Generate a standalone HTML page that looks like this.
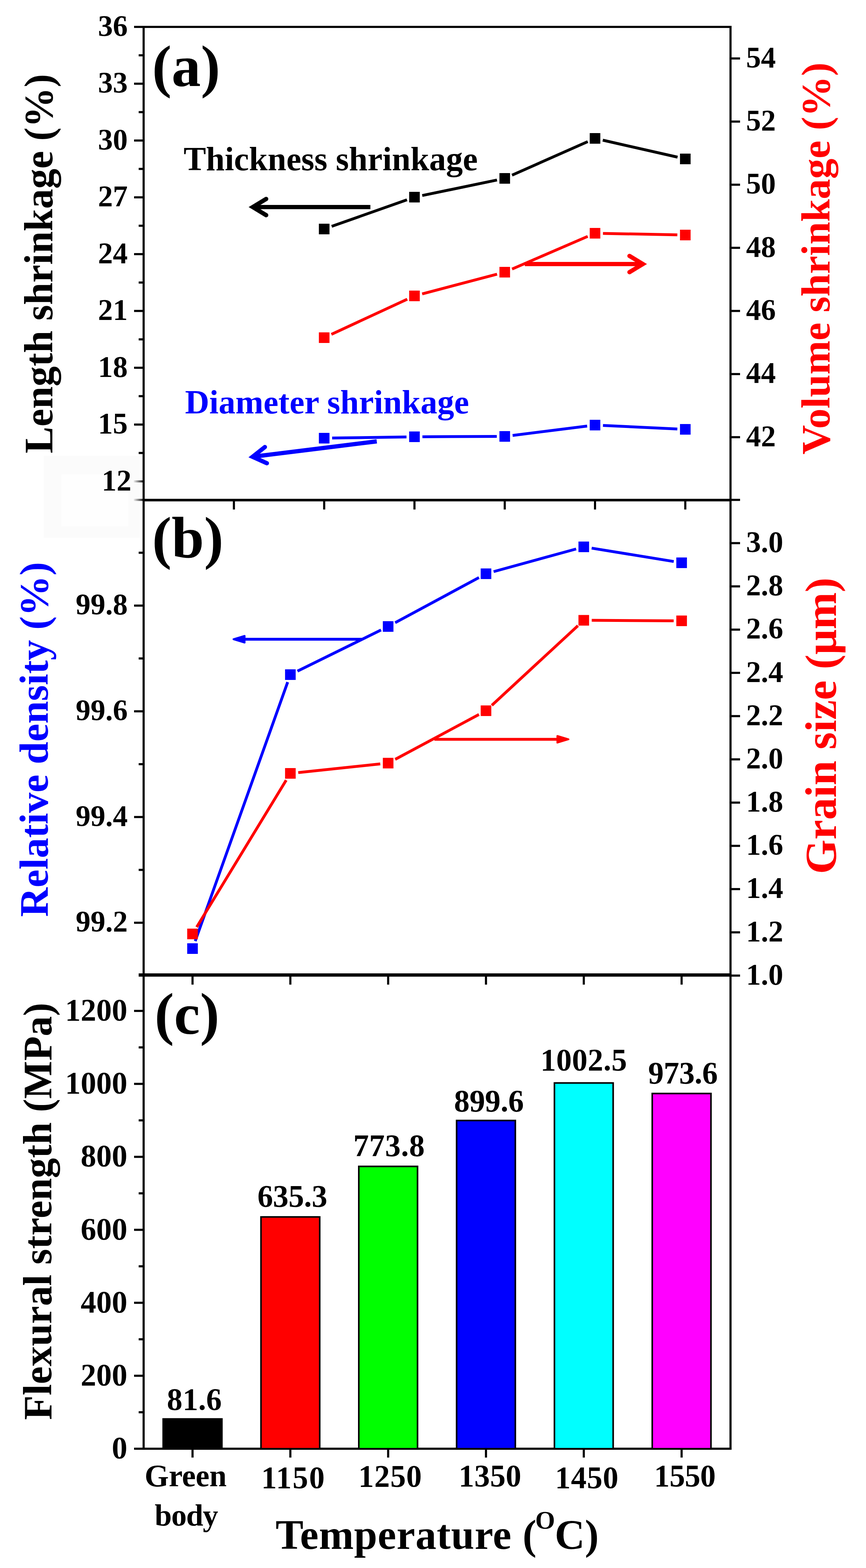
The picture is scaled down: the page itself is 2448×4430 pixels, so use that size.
<!DOCTYPE html>
<html><head><meta charset="utf-8"><title>Figure</title>
<style>html,body{margin:0;padding:0;background:#fff;}svg{display:block;}</style></head>
<body><svg width="2448" height="4430" viewBox="0 0 2448 4430" style="font-family:'Liberation Serif','Times New Roman',serif;font-weight:bold">
<rect width="2448" height="4430" fill="#fff"/>
<defs><linearGradient id="fade" x1="0" x2="1"><stop offset="0" stop-color="#eee"/><stop offset="1" stop-color="#222"/></linearGradient></defs>
<rect x="124" y="1288" width="271" height="231" fill="#fbfbfb"/>
<rect x="173" y="1340" width="190" height="147" fill="#fefefe"/>
<rect x="378" y="1357.0" width="26" height="6" fill="url(#fade)"/>
<text x="371.5" y="1385.5" font-size="84" text-anchor="end" fill="#000" >12</text>
<line x1="379" y1="1199.5" x2="406" y2="1199.5" stroke="#000" stroke-width="6" />
<text x="361" y="1225.0" font-size="84" text-anchor="end" fill="#000" >15</text>
<line x1="379" y1="1039.0" x2="406" y2="1039.0" stroke="#000" stroke-width="6" />
<text x="361" y="1064.5" font-size="84" text-anchor="end" fill="#000" >18</text>
<line x1="379" y1="878.5" x2="406" y2="878.5" stroke="#000" stroke-width="6" />
<text x="361" y="904.0" font-size="84" text-anchor="end" fill="#000" >21</text>
<line x1="379" y1="718.0" x2="406" y2="718.0" stroke="#000" stroke-width="6" />
<text x="361" y="743.5" font-size="84" text-anchor="end" fill="#000" >24</text>
<line x1="379" y1="557.5" x2="406" y2="557.5" stroke="#000" stroke-width="6" />
<text x="361" y="583.0" font-size="84" text-anchor="end" fill="#000" >27</text>
<line x1="379" y1="397.0" x2="406" y2="397.0" stroke="#000" stroke-width="6" />
<text x="361" y="422.5" font-size="84" text-anchor="end" fill="#000" >30</text>
<line x1="379" y1="236.5" x2="406" y2="236.5" stroke="#000" stroke-width="6" />
<text x="361" y="262.0" font-size="84" text-anchor="end" fill="#000" >33</text>
<line x1="379" y1="76.0" x2="406" y2="76.0" stroke="#000" stroke-width="6" />
<text x="361" y="101.5" font-size="84" text-anchor="end" fill="#000" >36</text>
<line x1="392" y1="1279.75" x2="406" y2="1279.75" stroke="#000" stroke-width="6" />
<line x1="392" y1="1119.25" x2="406" y2="1119.25" stroke="#000" stroke-width="6" />
<line x1="392" y1="958.75" x2="406" y2="958.75" stroke="#000" stroke-width="6" />
<line x1="392" y1="798.25" x2="406" y2="798.25" stroke="#000" stroke-width="6" />
<line x1="392" y1="637.75" x2="406" y2="637.75" stroke="#000" stroke-width="6" />
<line x1="392" y1="477.25" x2="406" y2="477.25" stroke="#000" stroke-width="6" />
<line x1="392" y1="316.75" x2="406" y2="316.75" stroke="#000" stroke-width="6" />
<line x1="392" y1="156.25" x2="406" y2="156.25" stroke="#000" stroke-width="6" />
<line x1="2065" y1="1235.1666666666667" x2="2092" y2="1235.1666666666667" stroke="#000" stroke-width="6" />
<text x="2109" y="1260.6666666666667" font-size="84" text-anchor="start" fill="#000" >42</text>
<line x1="2065" y1="1056.8333333333335" x2="2092" y2="1056.8333333333335" stroke="#000" stroke-width="6" />
<text x="2109" y="1082.3333333333335" font-size="84" text-anchor="start" fill="#000" >44</text>
<line x1="2065" y1="878.5" x2="2092" y2="878.5" stroke="#000" stroke-width="6" />
<text x="2109" y="904.0" font-size="84" text-anchor="start" fill="#000" >46</text>
<line x1="2065" y1="700.1666666666666" x2="2092" y2="700.1666666666666" stroke="#000" stroke-width="6" />
<text x="2109" y="725.6666666666666" font-size="84" text-anchor="start" fill="#000" >48</text>
<line x1="2065" y1="521.8333333333333" x2="2092" y2="521.8333333333333" stroke="#000" stroke-width="6" />
<text x="2109" y="547.3333333333333" font-size="84" text-anchor="start" fill="#000" >50</text>
<line x1="2065" y1="343.5" x2="2092" y2="343.5" stroke="#000" stroke-width="6" />
<text x="2109" y="369.0" font-size="84" text-anchor="start" fill="#000" >52</text>
<line x1="2065" y1="165.16666666666669" x2="2092" y2="165.16666666666669" stroke="#000" stroke-width="6" />
<text x="2109" y="190.66666666666669" font-size="84" text-anchor="start" fill="#000" >54</text>
<line x1="661.2" y1="1413.5" x2="661.2" y2="1439.5" stroke="#000" stroke-width="6" />
<line x1="916.4" y1="1413.5" x2="916.4" y2="1439.5" stroke="#000" stroke-width="6" />
<line x1="1171.6" y1="1413.5" x2="1171.6" y2="1439.5" stroke="#000" stroke-width="6" />
<line x1="1426.8" y1="1413.5" x2="1426.8" y2="1439.5" stroke="#000" stroke-width="6" />
<line x1="1682.0" y1="1413.5" x2="1682.0" y2="1439.5" stroke="#000" stroke-width="6" />
<line x1="1937.1999999999998" y1="1413.5" x2="1937.1999999999998" y2="1439.5" stroke="#000" stroke-width="6" />
<line x1="379" y1="2606.9666666666626" x2="406" y2="2606.9666666666626" stroke="#000" stroke-width="6" />
<text x="361" y="2632.4666666666626" font-size="84" text-anchor="end" fill="#000" >99.2</text>
<line x1="379" y1="2308.2999999999915" x2="406" y2="2308.2999999999915" stroke="#000" stroke-width="6" />
<text x="361" y="2333.7999999999915" font-size="84" text-anchor="end" fill="#000" >99.4</text>
<line x1="379" y1="2009.6333333333419" x2="406" y2="2009.6333333333419" stroke="#000" stroke-width="6" />
<text x="361" y="2035.1333333333419" font-size="84" text-anchor="end" fill="#000" >99.6</text>
<line x1="379" y1="1710.9666666666708" x2="406" y2="1710.9666666666708" stroke="#000" stroke-width="6" />
<text x="361" y="1736.4666666666708" font-size="84" text-anchor="end" fill="#000" >99.8</text>
<rect x="378" y="1409.3" width="26" height="6" fill="url(#fade)"/>
<line x1="392" y1="2756.3000000000084" x2="406" y2="2756.3000000000084" stroke="#000" stroke-width="6" />
<line x1="392" y1="2457.6333333333378" x2="406" y2="2457.6333333333378" stroke="#000" stroke-width="6" />
<line x1="392" y1="2158.9666666666667" x2="406" y2="2158.9666666666667" stroke="#000" stroke-width="6" />
<line x1="392" y1="1860.2999999999956" x2="406" y2="1860.2999999999956" stroke="#000" stroke-width="6" />
<line x1="392" y1="1561.6333333333248" x2="406" y2="1561.6333333333248" stroke="#000" stroke-width="6" />
<line x1="2065" y1="2756.3" x2="2092" y2="2756.3" stroke="#000" stroke-width="6" />
<text x="2109" y="2781.8" font-size="84" text-anchor="start" fill="#000" >1.0</text>
<line x1="2065" y1="2634.118181818182" x2="2092" y2="2634.118181818182" stroke="#000" stroke-width="6" />
<text x="2109" y="2659.618181818182" font-size="84" text-anchor="start" fill="#000" >1.2</text>
<line x1="2065" y1="2511.936363636364" x2="2092" y2="2511.936363636364" stroke="#000" stroke-width="6" />
<text x="2109" y="2537.436363636364" font-size="84" text-anchor="start" fill="#000" >1.4</text>
<line x1="2065" y1="2389.7545454545457" x2="2092" y2="2389.7545454545457" stroke="#000" stroke-width="6" />
<text x="2109" y="2415.2545454545457" font-size="84" text-anchor="start" fill="#000" >1.6</text>
<line x1="2065" y1="2267.572727272727" x2="2092" y2="2267.572727272727" stroke="#000" stroke-width="6" />
<text x="2109" y="2293.072727272727" font-size="84" text-anchor="start" fill="#000" >1.8</text>
<line x1="2065" y1="2145.390909090909" x2="2092" y2="2145.390909090909" stroke="#000" stroke-width="6" />
<text x="2109" y="2170.890909090909" font-size="84" text-anchor="start" fill="#000" >2.0</text>
<line x1="2065" y1="2023.209090909091" x2="2092" y2="2023.209090909091" stroke="#000" stroke-width="6" />
<text x="2109" y="2048.709090909091" font-size="84" text-anchor="start" fill="#000" >2.2</text>
<line x1="2065" y1="1901.0272727272727" x2="2092" y2="1901.0272727272727" stroke="#000" stroke-width="6" />
<text x="2109" y="1926.5272727272727" font-size="84" text-anchor="start" fill="#000" >2.4</text>
<line x1="2065" y1="1778.8454545454547" x2="2092" y2="1778.8454545454547" stroke="#000" stroke-width="6" />
<text x="2109" y="1804.3454545454547" font-size="84" text-anchor="start" fill="#000" >2.6</text>
<line x1="2065" y1="1656.6636363636367" x2="2092" y2="1656.6636363636367" stroke="#000" stroke-width="6" />
<text x="2109" y="1682.1636363636367" font-size="84" text-anchor="start" fill="#000" >2.8</text>
<line x1="2065" y1="1534.4818181818182" x2="2092" y2="1534.4818181818182" stroke="#000" stroke-width="6" />
<text x="2109" y="1559.9818181818182" font-size="84" text-anchor="start" fill="#000" >3.0</text>
<line x1="2065" y1="1412.3" x2="2092" y2="1412.3" stroke="#000" stroke-width="6" />
<line x1="544.25" y1="2756.3" x2="544.25" y2="2781.8" stroke="#000" stroke-width="6" />
<line x1="820.75" y1="2756.3" x2="820.75" y2="2781.8" stroke="#000" stroke-width="6" />
<line x1="1097.25" y1="2756.3" x2="1097.25" y2="2781.8" stroke="#000" stroke-width="6" />
<line x1="1373.75" y1="2756.3" x2="1373.75" y2="2781.8" stroke="#000" stroke-width="6" />
<line x1="1650.25" y1="2756.3" x2="1650.25" y2="2781.8" stroke="#000" stroke-width="6" />
<line x1="1926.75" y1="2756.3" x2="1926.75" y2="2781.8" stroke="#000" stroke-width="6" />
<line x1="379" y1="4093.0" x2="406" y2="4093.0" stroke="#000" stroke-width="6" />
<text x="360" y="4120.0" font-size="88" text-anchor="end" fill="#000" >0</text>
<line x1="379" y1="3886.846153846154" x2="406" y2="3886.846153846154" stroke="#000" stroke-width="6" />
<text x="360" y="3913.846153846154" font-size="88" text-anchor="end" fill="#000" >200</text>
<line x1="379" y1="3680.6923076923076" x2="406" y2="3680.6923076923076" stroke="#000" stroke-width="6" />
<text x="360" y="3707.6923076923076" font-size="88" text-anchor="end" fill="#000" >400</text>
<line x1="379" y1="3474.5384615384614" x2="406" y2="3474.5384615384614" stroke="#000" stroke-width="6" />
<text x="360" y="3501.5384615384614" font-size="88" text-anchor="end" fill="#000" >600</text>
<line x1="379" y1="3268.3846153846152" x2="406" y2="3268.3846153846152" stroke="#000" stroke-width="6" />
<text x="360" y="3295.3846153846152" font-size="88" text-anchor="end" fill="#000" >800</text>
<line x1="379" y1="3062.2307692307695" x2="406" y2="3062.2307692307695" stroke="#000" stroke-width="6" />
<text x="360" y="3089.2307692307695" font-size="88" text-anchor="end" fill="#000" >1000</text>
<line x1="379" y1="2856.076923076923" x2="406" y2="2856.076923076923" stroke="#000" stroke-width="6" />
<text x="360" y="2883.076923076923" font-size="88" text-anchor="end" fill="#000" >1200</text>
<line x1="392" y1="3989.923076923077" x2="406" y2="3989.923076923077" stroke="#000" stroke-width="6" />
<line x1="392" y1="3783.769230769231" x2="406" y2="3783.769230769231" stroke="#000" stroke-width="6" />
<line x1="392" y1="3577.6153846153848" x2="406" y2="3577.6153846153848" stroke="#000" stroke-width="6" />
<line x1="392" y1="3371.4615384615386" x2="406" y2="3371.4615384615386" stroke="#000" stroke-width="6" />
<line x1="392" y1="3165.3076923076924" x2="406" y2="3165.3076923076924" stroke="#000" stroke-width="6" />
<line x1="392" y1="2959.153846153846" x2="406" y2="2959.153846153846" stroke="#000" stroke-width="6" />
<line x1="392" y1="2753.0" x2="406" y2="2753.0" stroke="#000" stroke-width="6" />
<line x1="544.25" y1="4093" x2="544.25" y2="4118" stroke="#000" stroke-width="6" />
<line x1="820.75" y1="4093" x2="820.75" y2="4118" stroke="#000" stroke-width="6" />
<line x1="1097.25" y1="4093" x2="1097.25" y2="4118" stroke="#000" stroke-width="6" />
<line x1="1373.75" y1="4093" x2="1373.75" y2="4118" stroke="#000" stroke-width="6" />
<line x1="1650.25" y1="4093" x2="1650.25" y2="4118" stroke="#000" stroke-width="6" />
<line x1="1926.75" y1="4093" x2="1926.75" y2="4118" stroke="#000" stroke-width="6" />
<rect x="406" y="76" width="1659" height="1337.5" fill="none" stroke="#000" stroke-width="6"/>
<rect x="406" y="1412.3" width="1659" height="1344.0000000000002" fill="none" stroke="#000" stroke-width="6"/>
<rect x="406" y="2753" width="1659" height="1340" fill="none" stroke="#000" stroke-width="6"/>
<rect x="461.25" y="4008.889230769231" width="166" height="84.11076923076917" fill="#000000" stroke="#000" stroke-width="4.5"/>
<rect x="737.75" y="3438.1523076923077" width="166" height="654.8476923076923" fill="#ff0000" stroke="#000" stroke-width="4.5"/>
<rect x="1014.25" y="3295.3907692307694" width="166" height="797.6092307692306" fill="#00ff00" stroke="#000" stroke-width="4.5"/>
<rect x="1290.75" y="3165.7200000000003" width="166" height="927.2799999999997" fill="#0000ff" stroke="#000" stroke-width="4.5"/>
<rect x="1567.25" y="3059.653846153846" width="166" height="1033.3461538461538" fill="#00ffff" stroke="#000" stroke-width="4.5"/>
<rect x="1843.75" y="3089.4430769230767" width="166" height="1003.5569230769233" fill="#ff00ff" stroke="#000" stroke-width="4.5"/>
<text x="471.8" y="3982.6" font-size="88" fill="#000" letter-spacing="0.33">81.6</text>
<text x="727.7" y="3408.8" font-size="88" fill="#000" letter-spacing="-0.12">635.3</text>
<text x="998.7" y="3265.6" font-size="88" fill="#000" letter-spacing="0.93">773.8</text>
<text x="1283.4" y="3139.6" font-size="88" fill="#000" letter-spacing="-0.15">899.6</text>
<text x="1527.8" y="3023.8" font-size="88" fill="#000" letter-spacing="0.47">1002.5</text>
<text x="1832.2" y="3061.2" font-size="88" fill="#000" letter-spacing="-0.28">973.6</text>
<text x="408.8" y="4199.2" font-size="88" fill="#000" letter-spacing="-0.24">Green</text>
<text x="437.3" y="4310.2" font-size="87" fill="#000" letter-spacing="-1.43">body</text>
<text x="738.6" y="4204.1" font-size="88" fill="#000" letter-spacing="2.63">1150</text>
<text x="1013.0" y="4199.8" font-size="88" fill="#000" letter-spacing="1.08">1250</text>
<text x="1296.4" y="4199.1" font-size="88" fill="#000" letter-spacing="0.38">1350</text>
<text x="1569.0" y="4203.6" font-size="88" fill="#000" letter-spacing="0.98">1450</text>
<text x="1849.0" y="4199.1" font-size="88" fill="#000" letter-spacing="-0.58">1550</text>
<text x="779" y="4376" font-size="118" letter-spacing="1.1">Temperature (</text>
<text x="1513" y="4319" font-size="72">O</text>
<text x="1568" y="4376" font-size="118">C)</text>
<line x1="937.6" y1="639.5" x2="1150.4" y2="564.5" stroke="#000" stroke-width="8" />
<line x1="1193.6" y1="552.4" x2="1404.8" y2="508.6" stroke="#000" stroke-width="8" />
<line x1="1447.4" y1="494.9" x2="1661.4" y2="400.1" stroke="#000" stroke-width="8" />
<line x1="1703.9" y1="396.0" x2="1915.3" y2="444.0" stroke="#000" stroke-width="8" />
<rect x="901.4" y="632.0" width="30" height="30" fill="#000"/>
<rect x="1156.6" y="542.0" width="30" height="30" fill="#000"/>
<rect x="1411.8" y="489.0" width="30" height="30" fill="#000"/>
<rect x="1667.0" y="376.0" width="30" height="30" fill="#000"/>
<rect x="1922.2" y="434.0" width="30" height="30" fill="#000"/>
<line x1="936.8" y1="944.6" x2="1151.2" y2="845.4" stroke="#ff0000" stroke-width="8" />
<line x1="1193.4" y1="830.3" x2="1405.0" y2="774.7" stroke="#ff0000" stroke-width="8" />
<line x1="1447.5" y1="760.1" x2="1661.3" y2="667.9" stroke="#ff0000" stroke-width="8" />
<line x1="1704.5" y1="659.4" x2="1914.7" y2="663.6" stroke="#ff0000" stroke-width="8" />
<rect x="901.4" y="939.0" width="30" height="30" fill="#ff0000"/>
<rect x="1156.6" y="821.0" width="30" height="30" fill="#ff0000"/>
<rect x="1411.8" y="754.0" width="30" height="30" fill="#ff0000"/>
<rect x="1667.0" y="644.0" width="30" height="30" fill="#ff0000"/>
<rect x="1922.2" y="649.0" width="30" height="30" fill="#ff0000"/>
<line x1="938.9" y1="1237.6" x2="1149.1" y2="1234.4" stroke="#0000ff" stroke-width="8" />
<line x1="1194.1" y1="1233.9" x2="1404.3" y2="1233.1" stroke="#0000ff" stroke-width="8" />
<line x1="1449.1" y1="1230.2" x2="1659.7" y2="1203.8" stroke="#0000ff" stroke-width="8" />
<line x1="1704.5" y1="1202.1" x2="1914.7" y2="1211.9" stroke="#0000ff" stroke-width="8" />
<rect x="901.4" y="1223.0" width="30" height="30" fill="#0000ff"/>
<rect x="1156.6" y="1219.0" width="30" height="30" fill="#0000ff"/>
<rect x="1411.8" y="1218.0" width="30" height="30" fill="#0000ff"/>
<rect x="1667.0" y="1186.0" width="30" height="30" fill="#0000ff"/>
<rect x="1922.2" y="1198.0" width="30" height="30" fill="#0000ff"/>
<line x1="551.8" y1="2658.8" x2="813.2" y2="1927.2" stroke="#0000ff" stroke-width="8" />
<line x1="840.9" y1="1896.1" x2="1077.1" y2="1779.9" stroke="#0000ff" stroke-width="8" />
<line x1="1117.1" y1="1759.3" x2="1353.9" y2="1631.7" stroke="#0000ff" stroke-width="8" />
<line x1="1395.4" y1="1615.0" x2="1628.6" y2="1551.0" stroke="#0000ff" stroke-width="8" />
<line x1="1672.5" y1="1548.6" x2="1904.5" y2="1586.4" stroke="#0000ff" stroke-width="8" />
<rect x="529.2" y="2665.0" width="30" height="30" fill="#0000ff"/>
<rect x="805.8" y="1891.0" width="30" height="30" fill="#0000ff"/>
<rect x="1082.2" y="1755.0" width="30" height="30" fill="#0000ff"/>
<rect x="1358.8" y="1606.0" width="30" height="30" fill="#0000ff"/>
<rect x="1635.2" y="1530.0" width="30" height="30" fill="#0000ff"/>
<rect x="1911.8" y="1575.0" width="30" height="30" fill="#0000ff"/>
<line x1="556.0" y1="2619.4" x2="809.0" y2="2204.2" stroke="#ff0000" stroke-width="8" />
<line x1="843.1" y1="2182.7" x2="1074.9" y2="2158.3" stroke="#ff0000" stroke-width="8" />
<line x1="1117.1" y1="2145.4" x2="1353.9" y2="2018.6" stroke="#ff0000" stroke-width="8" />
<line x1="1390.3" y1="1992.7" x2="1633.7" y2="1767.8" stroke="#ff0000" stroke-width="8" />
<line x1="1672.7" y1="1752.6" x2="1904.3" y2="1753.9" stroke="#ff0000" stroke-width="8" />
<rect x="529.2" y="2623.6" width="30" height="30" fill="#ff0000"/>
<rect x="805.8" y="2170.0" width="30" height="30" fill="#ff0000"/>
<rect x="1082.2" y="2141.0" width="30" height="30" fill="#ff0000"/>
<rect x="1358.8" y="1993.0" width="30" height="30" fill="#ff0000"/>
<rect x="1635.2" y="1737.5" width="30" height="30" fill="#ff0000"/>
<rect x="1911.8" y="1739.0" width="30" height="30" fill="#ff0000"/>
<line x1="1047.0" y1="585.0" x2="718.5" y2="585.0" stroke="#000" stroke-width="12" />
<path d="M752.5,562.0 L714.5,585.0 L752.5,608.0" fill="none" stroke="#000" stroke-width="12" stroke-linecap="round" stroke-linejoin="miter"/>
<line x1="1483.6" y1="746.0" x2="1813.3" y2="746.0" stroke="#ff0000" stroke-width="12" />
<path d="M1779.3,769.0 L1817.3,746.0 L1779.3,723.0" fill="none" stroke="#ff0000" stroke-width="12" stroke-linecap="round" stroke-linejoin="miter"/>
<line x1="1065.0" y1="1247.0" x2="717.9" y2="1290.0" stroke="#0000ff" stroke-width="12" />
<path d="M748.8,1263.0 L713.9,1290.5 L754.4,1308.7" fill="none" stroke="#0000ff" stroke-width="12" stroke-linecap="round" stroke-linejoin="miter"/>
<line x1="1023.0" y1="1806.0" x2="692.0" y2="1806.0" stroke="#0000ff" stroke-width="8" />
<polygon points="691.5,1796.5 660.0,1806.0 691.5,1815.5" fill="#0000ff" stroke="#0000ff" stroke-width="5.0" stroke-linejoin="round"/>
<line x1="1228.0" y1="2088.7" x2="1575.0" y2="2088.7" stroke="#ff0000" stroke-width="8" />
<polygon points="1575.5,2098.2 1607.0,2088.7 1575.5,2079.2" fill="#ff0000" stroke="#ff0000" stroke-width="5.0" stroke-linejoin="round"/>
<text x="519" y="481" font-size="95" text-anchor="start" fill="#000" >Thickness shrinkage</text>
<text x="523" y="1168" font-size="95" text-anchor="start" fill="#0000ff" >Diameter shrinkage</text>
<text x="430" y="243" font-size="165" text-anchor="start" fill="#000" >(a)</text>
<text x="430" y="1575" font-size="165" text-anchor="start" fill="#000" >(b)</text>
<text x="437" y="2920" font-size="165" text-anchor="start" fill="#000" >(c)</text>
<text transform="translate(148,1281) rotate(-90)" font-size="113.5" text-anchor="start" fill="#000">Length shrinkage (%)</text>
<text transform="translate(2345,1284) rotate(-90)" font-size="115" text-anchor="start" fill="#ff0000">Volume shrinkage (%)</text>
<text transform="translate(135,2590.5) rotate(-90)" font-size="115" text-anchor="start" fill="#0000ff">Relative density (%)</text>
<text transform="translate(2363,2469.6) rotate(-90)" font-size="125.5" text-anchor="start" fill="#ff0000">Grain size (μm)</text>
<text transform="translate(144.8,4011.7) rotate(-90)" font-size="113.7" text-anchor="start" fill="#000">Flexural strength (MPa)</text>
</svg></body></html>
